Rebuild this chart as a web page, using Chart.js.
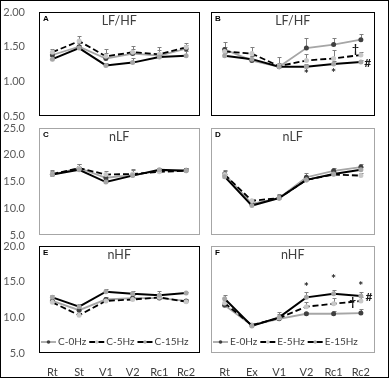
<!DOCTYPE html>
<html>
<head>
<meta charset="utf-8">
<script src="https://cdn.jsdelivr.net/npm/chart.js@4.4.1/dist/chart.umd.min.js"></script>
<style>
  body { margin: 0; background: #fff; }
  #frame { position: absolute; left: 0; top: 0; width: 389px; height: 378px; box-sizing: border-box; border: 1px solid #000; }
  canvas { position: absolute; }
</style>
</head>
<body>
<div id="frame"></div>
<canvas id="cA"></canvas>
<canvas id="cB"></canvas>
<canvas id="cC"></canvas>
<canvas id="cD"></canvas>
<canvas id="cE"></canvas>
<canvas id="cF"></canvas>
<script>
const restLabels = ['Rt', 'St', 'V1', 'V2', 'Rc1', 'Rc2'];
const exLabels = ['Rt', 'Ex', 'V1', 'V2', 'Rc1', 'Rc2'];
const ctrlNames = ['C-0Hz', 'C-5Hz', 'C-15Hz'];
const exNames = ['E-0Hz', 'E-5Hz', 'E-15Hz'];

// A: LF/HF, control
const lfhfC0 = [1.38, 1.50, 1.33, 1.40, 1.37, 1.47];
const lfhfC5 = [1.42, 1.58, 1.36, 1.42, 1.39, 1.49];
const lfhfC15 = [1.32, 1.48, 1.23, 1.27, 1.35, 1.37];
const lfhfC0Err = [0.05, 0.06, 0.08, 0.07, 0.08, 0.06];
const lfhfC5Err = [0.05, 0.08, 0.10, 0.09, 0.10, 0.07];
const lfhfC15Err = [0.04, 0.04, 0.04, 0.06, 0.04, 0.07];

// B: LF/HF, exercise
const lfhfE0 = [1.46, 1.30, 1.21, 1.48, 1.53, 1.60];
const lfhfE5 = [1.43, 1.40, 1.22, 1.30, 1.33, 1.38];
const lfhfE15 = [1.37, 1.32, 1.21, 1.21, 1.25, 1.28];
const lfhfE0Err = [0.11, 0.06, 0.06, 0.14, 0.09, 0.08];
const lfhfE5Err = [0.06, 0.10, 0.13, 0.10, 0.12, 0.04];
const lfhfE15Err = [0.04, 0.04, 0.04, 0.04, 0.04, 0.03];

// C: nLF, control
const nlfC0 = [16.3, 17.5, 15.7, 16.2, 17.0, 17.1];
const nlfC5 = [16.4, 17.5, 16.3, 16.4, 16.8, 17.0];
const nlfC15 = [16.3, 17.2, 14.9, 16.1, 17.2, 17.0];
const nlfC0Err = [0.7, 0.7, 0.7, 0.9, 0.5, 0.4];
const nlfC5Err = [0.8, 0.7, 0.6, 0.9, 0.6, 0.5];
const nlfC15Err = [0.5, 0.5, 0.5, 0.5, 0.3, 0.3];

// D: nLF, exercise
const nlfE0 = [16.4, 10.8, 11.9, 15.8, 17.0, 17.7];
const nlfE5 = [16.3, 11.4, 11.9, 15.3, 16.3, 16.1];
const nlfE15 = [15.9, 10.5, 11.9, 15.3, 16.4, 17.2];
const nlfE0Err = [0.8, 0.6, 0.8, 0.7, 0.6, 0.5];
const nlfE5Err = [0.6, 0.4, 0.6, 0.5, 0.5, 0.5];
const nlfE15Err = [0.5, 0.4, 0.5, 0.5, 0.5, 0.5];

// E: nHF, control
const nhfC0 = [12.3, 11.0, 12.5, 12.7, 12.7, 12.3];
const nhfC5 = [12.1, 10.3, 12.3, 12.5, 12.8, 12.2];
const nhfC15 = [12.8, 11.5, 13.6, 13.3, 13.1, 13.4];
const nhfC0Err = [0.5, 0.4, 0.4, 0.4, 0.4, 0.3];
const nhfC5Err = [0.4, 0.3, 0.3, 0.3, 0.3, 0.3];
const nhfC15Err = [0.4, 0.3, 0.4, 0.4, 0.6, 0.2];

// F: nHF, exercise
const nhfE0 = [11.7, 8.9, 9.8, 10.5, 10.5, 10.6];
const nhfE5 = [12.0, 8.9, 9.9, 11.5, 11.9, 12.3];
const nhfE15 = [12.6, 8.8, 10.0, 12.8, 13.3, 13.0];
const nhfE0Err = [0.3, 0.3, 0.3, 0.3, 0.4, 0.5];
const nhfE5Err = [0.4, 0.3, 0.5, 0.6, 0.8, 0.5];
const nhfE15Err = [0.6, 0.4, 0.8, 0.7, 0.6, 0.6];

// significance marks: [text, category index, value]
const marksB = [['*', 3, 1.10], ['*', 4, 1.12], ['\u2020', 4.8, 1.47], ['#', 5.25, 1.26]];
const marksF = [['*', 3, 14.2], ['*', 4, 15.3], ['*', 5, 14.4], ['\u2020', 4.7, 12.1], ['#', 5.3, 12.85]];

Chart.defaults.font.family = 'Lato, "Open Sans", sans-serif';
Chart.defaults.color = '#595959';

const styles = [
    { borderColor: '#a6a6a6', pointBackgroundColor: '#404040', borderWidth: 1.8, borderDash: [] },
    { borderColor: '#000000', pointBackgroundColor: '#c8c8c8', borderWidth: 1.8, borderDash: [6, 3] },
    { borderColor: '#000000', pointBackgroundColor: '#a6a6a6', borderWidth: 2, borderDash: [] }
];

const rows = [
    { top: 0, height: 124, padTop: 12, padBottom: 8 },
    { top: 116, height: 128, padTop: 12, padBottom: 9 },
    { top: 234, height: 144, padTop: 12, padBottom: 0 }
];
const cols = [
    { left: 0, width: 202, padLeft: 0 },
    { left: 205, width: 172, padLeft: 6 }
];

const panelDecor = {
    id: 'panelDecor',
    beforeDatasetsDraw(chart) {
        const { ctx } = chart;
        const y = chart.scales.y;
        ctx.save();
        ctx.strokeStyle = '#7f7f7f';
        ctx.lineWidth = 1;
        chart.data.datasets.forEach((ds, i) => {
            const meta = chart.getDatasetMeta(i);
            ds.errors.forEach((e, j) => {
                const pt = meta.data[j];
                const top = Math.round(y.getPixelForValue(ds.data[j] + e)) + 0.5;
                const px = Math.round(pt.x) + 0.5;
                ctx.beginPath();
                ctx.moveTo(px, pt.y);
                ctx.lineTo(px, top);
                ctx.moveTo(px - 2, top);
                ctx.lineTo(px + 2, top);
                ctx.stroke();
            });
        });
        ctx.restore();
    },
    afterDraw(chart, args, opts) {
        const { ctx, chartArea: a } = chart;
        const x = chart.scales.x, y = chart.scales.y;
        ctx.save();
        ctx.strokeStyle = opts.boxColor;
        ctx.lineWidth = 1;
        ctx.strokeRect(Math.round(a.left) + 0.5, Math.round(a.top) + 0.5, Math.round(a.width) - 1, Math.round(a.height) - 1);

        ctx.fillStyle = '#000';
        ctx.font = 'bold 8px Arial, "Liberation Sans", sans-serif';
        ctx.textBaseline = 'top';
        ctx.textAlign = 'left';
        ctx.fillText(opts.letter, a.left + 4, a.top + 3);

        ctx.fillStyle = '#404040';
        ctx.font = '12.5px Lato, sans-serif';
        ctx.textAlign = 'center';
        ctx.fillText(opts.title, (a.left + a.right) / 2, a.top + 3);

        ctx.font = 'bold 12px Lato, sans-serif';
        ctx.textBaseline = 'middle';
        ctx.fillStyle = '#1a1a1a';
        opts.marks.forEach(m => {
            ctx.fillText(m[0], x.getPixelForValue(m[1]), y.getPixelForValue(m[2]));
        });

        if (opts.legend) {
            let lx = a.left + 2;
            const ly = a.bottom - 11;
            ctx.font = '10px Lato, sans-serif';
            ctx.textAlign = 'left';
            chart.data.datasets.forEach(ds => {
                ctx.strokeStyle = ds.borderColor;
                ctx.lineWidth = ds.borderWidth;
                ctx.setLineDash(ds.borderDash);
                ctx.beginPath();
                ctx.moveTo(lx, ly);
                ctx.lineTo(lx + 15, ly);
                ctx.stroke();
                ctx.setLineDash([]);
                ctx.fillStyle = ds.pointBackgroundColor;
                ctx.beginPath();
                ctx.arc(lx + 7.5, ly, 1.8, 0, Math.PI * 2);
                ctx.fill();
                ctx.fillStyle = '#404040';
                ctx.fillText(ds.label, lx + 17, ly);
                lx += 17 + ctx.measureText(ds.label).width + 3;
            });
        }
        ctx.restore();
    }
};

function makePanel(id, row, col, cfg) {
    const r = rows[row], c = cols[col];
    const canvas = document.getElementById(id);
    canvas.width = c.width;
    canvas.height = r.height;
    canvas.style.left = c.left + 'px';
    canvas.style.top = r.top + 'px';
    const bottomRow = row === 2;
    const datasets = cfg.series.map((s, i) => Object.assign({
        label: cfg.names[i],
        data: s[0],
        errors: s[1],
        pointRadius: 2.5,
        pointHoverRadius: 2.5,
        pointBorderWidth: 0,
        pointHoverBorderWidth: 0,
        tension: 0,
        order: 2 - i
    }, styles[i]));
    new Chart(canvas, {
        type: 'line',
        data: { labels: cfg.labels, datasets: datasets },
        options: {
            responsive: false,
            animation: false,
            events: [],
            layout: { padding: { left: c.padLeft, right: 2, top: r.padTop, bottom: r.padBottom } },
            plugins: {
                legend: { display: false },
                tooltip: { enabled: false },
                panelDecor: { boxColor: cfg.box, letter: cfg.letter, title: cfg.title, marks: cfg.marks || [], legend: bottomRow }
            },
            scales: {
                x: {
                    display: bottomRow,
                    offset: true,
                    grid: { display: false },
                    border: { display: false },
                    ticks: { padding: 5, autoSkip: false, font: { size: 11 }, color: '#404040', maxRotation: 0 },
                    afterFit: s => { if (bottomRow) s.height = 25; s.paddingLeft = 0; s.paddingRight = 0; }
                },
                y: {
                    display: col === 0,
                    min: cfg.min,
                    max: cfg.max,
                    grid: { display: false },
                    border: { display: false },
                    ticks: {
                        stepSize: cfg.step,
                        padding: 6,
                        font: { size: 11 },
                        color: '#595959',
                        callback: v => v.toFixed(cfg.digits)
                    },
                    afterFit: s => { if (col === 0) s.width = 39; s.paddingTop = 0; s.paddingBottom = 0; }
                }
            }
        },
        plugins: [panelDecor]
    });
}

makePanel('cA', 0, 0, { letter: 'A', title: 'LF/HF', box: '#000', labels: restLabels, names: ctrlNames, min: 0.5, max: 2.0, step: 0.5, digits: 2,
    series: [[lfhfC0, lfhfC0Err], [lfhfC5, lfhfC5Err], [lfhfC15, lfhfC15Err]] });
makePanel('cB', 0, 1, { letter: 'B', title: 'LF/HF', box: '#000', labels: exLabels, names: exNames, min: 0.5, max: 2.0, step: 0.5, digits: 2,
    series: [[lfhfE0, lfhfE0Err], [lfhfE5, lfhfE5Err], [lfhfE15, lfhfE15Err]], marks: marksB });
makePanel('cC', 1, 0, { letter: 'C', title: 'nLF', box: '#a6a6a6', labels: restLabels, names: ctrlNames, min: 5, max: 25, step: 5, digits: 1,
    series: [[nlfC0, nlfC0Err], [nlfC5, nlfC5Err], [nlfC15, nlfC15Err]] });
makePanel('cD', 1, 1, { letter: 'D', title: 'nLF', box: '#a6a6a6', labels: exLabels, names: exNames, min: 5, max: 25, step: 5, digits: 1,
    series: [[nlfE0, nlfE0Err], [nlfE5, nlfE5Err], [nlfE15, nlfE15Err]] });
makePanel('cE', 2, 0, { letter: 'E', title: 'nHF', box: '#000', labels: restLabels, names: ctrlNames, min: 5, max: 20, step: 5, digits: 1,
    series: [[nhfC0, nhfC0Err], [nhfC5, nhfC5Err], [nhfC15, nhfC15Err]] });
makePanel('cF', 2, 1, { letter: 'F', title: 'nHF', box: '#a6a6a6', labels: exLabels, names: exNames, min: 5, max: 20, step: 5, digits: 1,
    series: [[nhfE0, nhfE0Err], [nhfE5, nhfE5Err], [nhfE15, nhfE15Err]], marks: marksF });
</script>
</body>
</html>
